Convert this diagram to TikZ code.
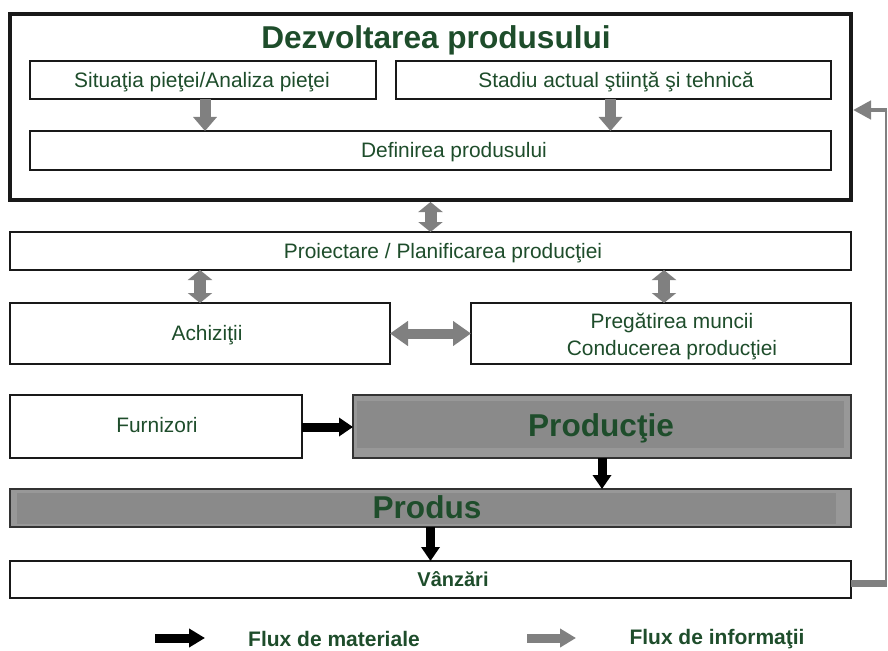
\documentclass[tikz,border=0pt]{standalone}
\usepackage{fontspec}
\setmainfont{Liberation Sans}
\usetikzlibrary{arrows.meta}
\definecolor{txtgreen}{HTML}{1E4D2B}
\definecolor{arrgray}{HTML}{808080}
\definecolor{boxgrayout}{HTML}{989898}
\definecolor{boxgrayin}{HTML}{8A8A8A}
\begin{document}
\begin{tikzpicture}[x=1pt,y=-1pt,
  box/.style={draw=black!90,line width=1.3pt,fill=white,inner sep=0pt,outer sep=0pt},
  graybox/.style={draw=black!80,line width=1.5pt,fill=boxgrayout,inner sep=0pt,outer sep=0pt},
  txt/.style={text=txtgreen,inner sep=0pt,anchor=base,font=\fontsize{20.9}{24}\selectfont},
  btxt/.style={text=txtgreen,inner sep=0pt,anchor=base,font=\bfseries\fontsize{20.5}{24}\selectfont},
  bigtxt/.style={text=txtgreen,inner sep=0pt,anchor=base,font=\bfseries\fontsize{31.6}{36}\selectfont},
  garrow/.style={draw=arrgray,line width=11pt,-{Triangle[length=14pt,width=23pt]}},
  gdarrow/.style={draw=arrgray,line width=12pt,{Triangle[length=10pt,width=24pt]}-{Triangle[length=10pt,width=24pt]}},
  hdarrow/.style={draw=arrgray,line width=10pt,{Triangle[length=18pt,width=24pt]}-{Triangle[length=18pt,width=24pt]}},
  barrow/.style={draw=black,line width=9pt,-{Triangle[length=14pt,width=18pt]}},
  lgarrow/.style={draw=arrgray,line width=9pt,-{Triangle[length=16pt,width=18pt]}},
]
\useasboundingbox (0,0) rectangle (888,650);

% boxes
\node[box,line width=4pt,minimum width=841pt,minimum height=186pt] (dev) at (430.5,107) {};
\node[box,minimum width=346pt,minimum height=38pt] (sit) at (203,80) {};
\node[box,minimum width=435pt,minimum height=38pt] (sta) at (613.5,80) {};
\node[box,minimum width=801pt,minimum height=39pt] (def) at (430.5,150.5) {};
\node[box,minimum width=841pt,minimum height=38pt] (pro) at (430.5,251) {};
\node[box,minimum width=380pt,minimum height=61pt] (ach) at (200,333.5) {};
\node[box,minimum width=380pt,minimum height=61pt] (pre) at (661,333.5) {};
\node[box,minimum width=292pt,minimum height=63pt] (fur) at (156,426.5) {};
\node[graybox,minimum width=498pt,minimum height=63pt] (prd) at (602,426.5) {};
\fill[boxgrayin] ([shift={(4,6)}]prd.north west) rectangle ([shift={(-7,-10)}]prd.south east);
\node[graybox,minimum width=841pt,minimum height=38pt] (pds) at (430.5,508) {};
\fill[boxgrayin] ([shift={(7,4)}]pds.north west) rectangle ([shift={(-15,-3)}]pds.south east);
\node[box,minimum width=841pt,minimum height=37pt] (van) at (430.5,579.5) {};

% texts
\node[bigtxt] (tdev) at (436,49) {Dezvoltarea produsului};
\node[txt] (tsit) at (202,87.5) {Situaţia pieţei/Analiza pieţei};
\node[txt] (tsta) at (616,87.5) {Stadiu actual ştiinţă şi tehnică};
\node[txt] (tdef) at (454,157.5) {Definirea produsului};
\node[txt] (tpro) at (443,258.5) {Proiectare / Planificarea producţiei};
\node[txt] (tach) at (207,340.5) {Achiziţii};
\node[txt] (tpre1) at (672,328.5) {Pregătirea muncii};
\node[txt] (tpre2) at (672,355.5) {Conducerea producţiei};
\node[txt] (tfur) at (157,432.5) {Furnizori};
\node[bigtxt] (tprd) at (601,436) {Producţie};
\node[bigtxt] (tpds) at (427,518) {Produs};
\node[btxt,font=\bfseries\fontsize{20}{24}\selectfont] (tvan) at (453,586) {Vânzări};

% information arrows
\draw[garrow] ([xshift=2pt]sit.south) -- ([xshift=2pt]sit.south |- def.north);
\draw[garrow] ([xshift=-3pt]sta.south) -- ([xshift=-3pt]sta.south |- def.north);
\draw[gdarrow] ([yshift=-2pt]dev.south) -- (dev.south |- pro.north);
\draw[gdarrow] (ach.north |- pro.south) -- (ach.north);
\draw[gdarrow] ([xshift=3pt]pre.north |- pro.south) -- ([xshift=3pt]pre.north);
\draw[hdarrow] (ach.east) -- (pre.west);

% material arrows
\draw[barrow] ([yshift=-0.5pt]fur.east) -- ([yshift=-0.5pt]fur.east -| prd.west);
\draw[barrow] (prd.south) -- (prd.south |- pds.north);
\draw[barrow] (pds.south) -- (pds.south |- van.north);

% feedback
\coordinate (fbb) at (886,583);
\coordinate (fbt) at (886,110);
\draw[draw=arrgray,line width=7pt] (van.east |- fbb) -- ([xshift=1pt]fbb);
\draw[draw=arrgray,line width=2.5pt] ([yshift=3.5pt]fbb) -- ([yshift=-2pt]fbt);
\draw[draw=arrgray,line width=4.5pt,-{Triangle[length=18pt,width=18pt]}] ([xshift=1.25pt]fbt) -- ([xshift=2pt]dev.east |- fbt);

% legend
\coordinate (lm1) at (155,638);
\coordinate (lm2) at (205,638);
\coordinate (li1) at (527,638);
\coordinate (li2) at (576,638);
\draw[barrow,-{Triangle[length=16pt,width=18pt]}] (lm1) -- (lm2);
\draw[lgarrow] (li1) -- (li2);
\node[btxt,font=\bfseries\fontsize{21}{24}\selectfont] (lm) at (334,646) {Flux de materiale};
\node[btxt,font=\bfseries\fontsize{21}{24}\selectfont] (li) at (717,644.5) {Flux de informaţii};
\end{tikzpicture}
\end{document}
